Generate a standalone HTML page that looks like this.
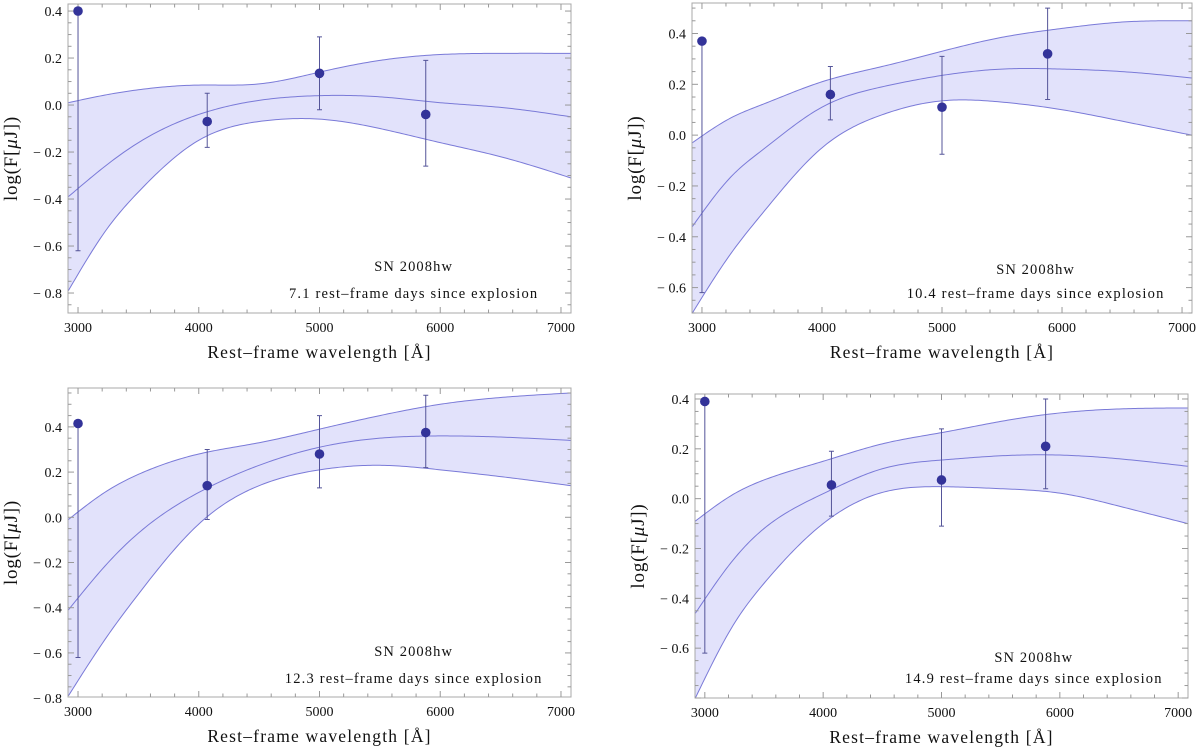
<!DOCTYPE html>
<html><head><meta charset="utf-8"><style>
body{margin:0;background:#fff;}
svg text{font-family:"Liberation Serif",serif;fill:#111;}
</style></head><body>
<svg id="chart" width="1200" height="750" xmlns="http://www.w3.org/2000/svg"></svg>
<script>
// ---- data ----
const panelDays = ["7.1","10.4","12.3","14.9"];
const obsWave = [3000,4070,5000,5880];
const obsFlux1 = [0.40,-0.07,0.135,-0.04];
const obsLo1 = [-0.62,-0.18,-0.02,-0.26];
const obsHi1 = [0.40,0.05,0.29,0.19];
const obsFlux2 = [0.37,0.16,0.11,0.32];
const obsLo2 = [-0.62,0.06,-0.075,0.14];
const obsHi2 = [0.37,0.27,0.31,0.50];
const obsFlux3 = [0.415,0.14,0.28,0.375];
const obsLo3 = [-0.62,-0.01,0.13,0.22];
const obsHi3 = [0.415,0.30,0.45,0.54];
const obsFlux4 = [0.39,0.055,0.075,0.21];
const obsLo4 = [-0.62,-0.07,-0.11,0.04];
const obsHi4 = [0.39,0.19,0.28,0.40];
const modelWave = [2920,3250,3500,4000,4500,5000,5500,6000,6500,7080];
const upper1 = [0.01,0.045,0.065,0.085,0.09,0.14,0.19,0.215,0.22,0.22];
const mid1 = [-0.39,-0.25,-0.16,-0.04,0.02,0.04,0.035,0.01,-0.01,-0.05];
const lower1 = [-0.79,-0.52,-0.37,-0.15,-0.07,-0.06,-0.10,-0.16,-0.22,-0.31];
const upper2 = [-0.03,0.07,0.12,0.21,0.27,0.33,0.385,0.42,0.445,0.45];
const mid2 = [-0.36,-0.16,-0.06,0.11,0.19,0.235,0.26,0.26,0.25,0.225];
const lower2 = [-0.70,-0.46,-0.31,-0.05,0.08,0.135,0.13,0.10,0.055,0.0];
const upper3 = [-0.01,0.12,0.19,0.28,0.33,0.39,0.45,0.50,0.53,0.55];
const mid3 = [-0.41,-0.2,-0.07,0.11,0.23,0.31,0.35,0.36,0.355,0.34];
const lower3 = [-0.79,-0.52,-0.34,-0.03,0.14,0.21,0.23,0.21,0.18,0.14];
const upper4 = [-0.09,0.02,0.075,0.15,0.22,0.265,0.31,0.344,0.36,0.364];
const mid4 = [-0.46,-0.24,-0.12,0.02,0.12,0.155,0.172,0.175,0.16,0.13];
const lower4 = [-0.80,-0.50,-0.34,-0.10,0.025,0.048,0.04,0.022,-0.03,-0.10];
const xTicks = [3000,4000,5000,6000,7000];
const yTicks1 = [-0.8,-0.6,-0.4,-0.2,0.0,0.2,0.4];
const yTicks2 = [-0.6,-0.4,-0.2,0.0,0.2,0.4];
const yTicks3 = [-0.8,-0.6,-0.4,-0.2,0.0,0.2,0.4];
const yTicks4 = [-0.6,-0.4,-0.2,0.0,0.2,0.4];

const panels = [
 {L:68,R:571,T:4,B:313,y0:0.43,y1:-0.885,flux:obsFlux1,lo:obsLo1,hi:obsHi1,up:upper1,mid:mid1,low:lower1,yt:yTicks1,ann:[271,298]},
 {L:692,R:1192,T:3,B:313,y0:0.52,y1:-0.70,flux:obsFlux2,lo:obsLo2,hi:obsHi2,up:upper2,mid:mid2,low:lower2,yt:yTicks2,ann:[274,298]},
 {L:68,R:571,T:388,B:697,y0:0.572,y1:-0.795,flux:obsFlux3,lo:obsLo3,hi:obsHi3,up:upper3,mid:mid3,low:lower3,yt:yTicks3,ann:[656,683]},
 {L:695,R:1188,T:394,B:698,y0:0.42,y1:-0.80,flux:obsFlux4,lo:obsLo4,hi:obsHi4,up:upper4,mid:mid4,low:lower4,yt:yTicks4,ann:[662,683]}
];
const NS="http://www.w3.org/2000/svg";
const svg=document.getElementById('chart');
function mk(tag,attrs,parent){const e=document.createElementNS(NS,tag);for(const k in attrs)e.setAttribute(k,attrs[k]);(parent||svg).appendChild(e);return e;}
// natural cubic spline in data space
function spline(xs,ys){const n=xs.length,h=[],a=[],l=[1],mu=[0],z=[0],c=new Array(n).fill(0),b=[],d=[];
 for(let i=0;i<n-1;i++)h[i]=xs[i+1]-xs[i];
 for(let i=1;i<n-1;i++)a[i]=3/h[i]*(ys[i+1]-ys[i])-3/h[i-1]*(ys[i]-ys[i-1]);
 for(let i=1;i<n-1;i++){l[i]=2*(xs[i+1]-xs[i-1])-h[i-1]*mu[i-1];mu[i]=h[i]/l[i];z[i]=(a[i]-h[i-1]*z[i-1])/l[i];}
 for(let j=n-2;j>=0;j--){c[j]=(j===0?0:z[j]-mu[j]*c[j+1]);b[j]=(ys[j+1]-ys[j])/h[j]-h[j]*(c[j+1]+2*c[j])/3;d[j]=(c[j+1]-c[j])/(3*h[j]);}
 c[0]=0;for(let j=0;j<n-1;j++){b[j]=(ys[j+1]-ys[j])/h[j]-h[j]*(c[j+1]+2*c[j])/3;d[j]=(c[j+1]-c[j])/(3*h[j]);}
 return x=>{let j=0;while(j<n-2&&x>xs[j+1])j++;const t=x-xs[j];return ys[j]+b[j]*t+c[j]*t*t+d[j]*t*t*t;};}
function sample(vals){const f=spline(modelWave,vals);const out=[];for(let w=modelWave[0];w<=modelWave[modelWave.length-1];w+=20)out.push([w,f(w)]);return out;}
panels.forEach((p,pi)=>{
 const g=mk('g',{});
 
 
 const xmin=2917,xmax=7083;
 const X=w=>p.L+(w-xmin)/(xmax-xmin)*(p.R-p.L);
 const Y=v=>p.T+(p.y0-v)/(p.y0-p.y1)*(p.B-p.T);
 const cp=mk('clipPath',{id:'cp'+pi},g);mk('rect',{x:p.L,y:p.T,width:p.R-p.L,height:p.B-p.T},cp);
 const up=sample(p.up).map(q=>[X(q[0]),Y(q[1])]);
 const md=sample(p.mid).map(q=>[X(q[0]),Y(q[1])]);
 const lo=sample(p.low).map(q=>[X(q[0]),Y(q[1])]);
 const poly=pts=>pts.map((q,i)=>(i?'L':'M')+q[0].toFixed(2)+','+q[1].toFixed(2)).join('');
 const band=mk('path',{d:poly(up)+poly(lo.slice().reverse()).replace('M','L')+'Z',fill:'#e2e2fb',stroke:'none','clip-path':'url(#cp'+pi+')'},g);
 
 
 [[up,'model-upper'],[md,'model-best-fit'],[lo,'model-lower']].forEach(([pts,n])=>{
  const l=mk('path',{d:poly(pts),fill:'none',stroke:'#7a7ad8','stroke-width':1,'clip-path':'url(#cp'+pi+')'},g);
  
  
 });
 const fr=mk('rect',{x:p.L,y:p.T,width:p.R-p.L,height:p.B-p.T,fill:'none',stroke:'#a8a8a8','stroke-width':1},g);
 
 
 for(let w=3000;w<=7000;w+=200){const major=w%1000===0,len=major?6:3.5,x=X(w);
  mk('line',{x1:x,x2:x,y1:p.B,y2:p.B-len,stroke:'#999'},g);mk('line',{x1:x,x2:x,y1:p.T,y2:p.T+len,stroke:'#999'},g);}
 xTicks.forEach(w=>{const t=mk('text',{x:X(w),y:p.B+19,'text-anchor':'middle','font-size':14},g);t.textContent=w;
  
  });
 for(let k=-20;k<=14;k++){const v=k*0.05;const y=Y(v);if(y<p.T-0.5||y>p.B+0.5)continue;const major=k%4===0,len=major?6:3.5;
  mk('line',{x1:p.L,x2:p.L+len,y1:y,y2:y,stroke:'#999'},g);mk('line',{x1:p.R,x2:p.R-len,y1:y,y2:y,stroke:'#999'},g);}
 p.yt.forEach(v=>{const t=mk('text',{x:p.L-6,y:Y(v)+5,'text-anchor':'end','font-size':14},g);t.textContent=(v<0?'\u2212 ':'')+Math.abs(v).toFixed(1);
  
  });
 obsWave.forEach((w,i)=>{const x=X(w);
  const eb=mk('path',{d:`M${x},${Y(p.lo[i])}V${Math.max(p.T,Y(p.hi[i]))}M${x-2.5},${Y(p.lo[i])}h5M${x-2.5},${Math.max(p.T,Y(p.hi[i]))}h5`,stroke:'#555599','stroke-width':1,fill:'none'},g);
  
  
  const c=mk('circle',{cx:x,cy:Y(p.flux[i]),r:4.8,fill:'#333399'},g);
  
  
 });
 const cx=(p.L+p.R)/2;
 const a1=mk('text',{x:X(5780),y:p.ann[0],'text-anchor':'middle','font-size':14.5,'letter-spacing':'1.1'},g);a1.textContent='SN 2008hw';
 
 
 const a2=mk('text',{x:X(5780),y:p.ann[1],'text-anchor':'middle','font-size':14.5,'letter-spacing':'1.2'},g);a2.textContent=panelDays[pi]+' rest\u2013frame days since explosion';
 
 
 const xt=mk('text',{x:cx,y:p.B+45,'text-anchor':'middle','font-size':17.5,'letter-spacing':'1.2'},g);xt.textContent='Rest\u2013frame wavelength [\u00C5]';
 
 
 const ym=(p.T+p.B)/2;
 const yt=mk('text',{x:p.L-51,y:ym,'text-anchor':'middle','font-size':19,'letter-spacing':'0.8',transform:`rotate(-90 ${p.L-51} ${ym})`},g);
 yt.innerHTML='log(F[<tspan font-style="italic">\u03BC</tspan>J])';
 
 
});
</script>
</body></html>
